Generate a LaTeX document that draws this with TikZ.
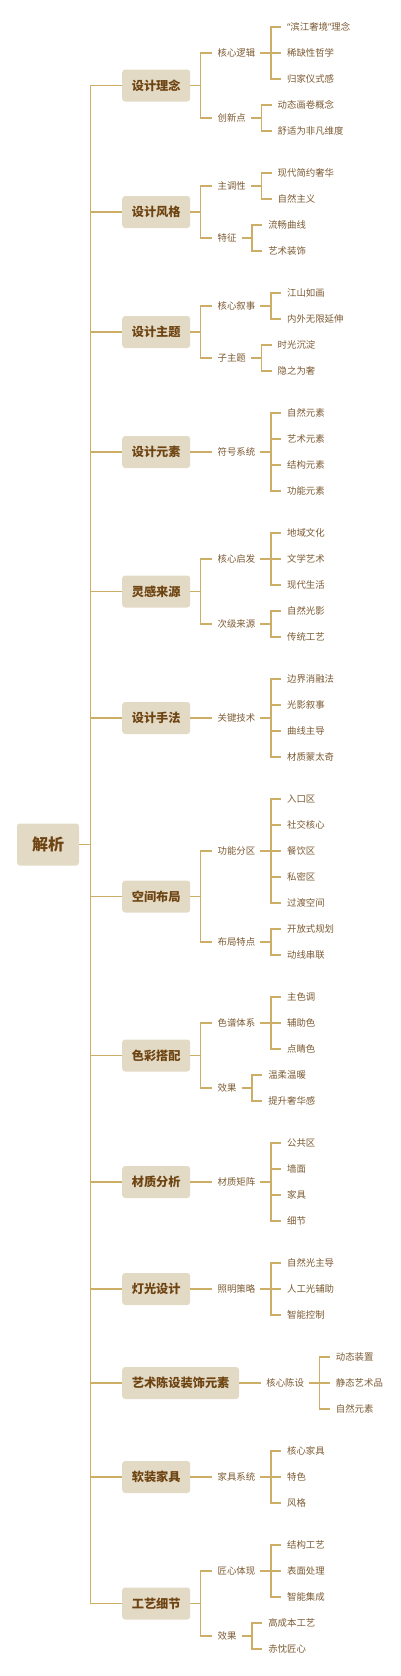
\documentclass[tikz,border=0pt]{standalone}
\usepackage{fontspec}
\setmainfont{Noto Sans CJK SC}
\newfontfamily\quotefont{Noto Sans}
\usepackage{tikz}
\usetikzlibrary{positioning}
\definecolor{boxfill}{RGB}{227,218,197}
\definecolor{boxtext}{RGB}{110,68,18}
\definecolor{linegold}{RGB}{205,174,102}
\definecolor{leaftext}{RGB}{123,90,50}

\begin{document}
\begin{tikzpicture}[x=1pt, y=-1pt,
    root/.style={fill=boxfill, rounded corners=3pt, minimum width=62pt, minimum height=42pt, inner sep=0pt, font=\fontsize{16}{16}\selectfont\bfseries, text=boxtext},
    topic/.style={fill=boxfill, rounded corners=3pt, minimum height=32pt, inner xsep=9.6pt, inner ysep=0pt, font=\fontsize{12.2}{13}\selectfont\bfseries, text=boxtext, anchor=west},
    subtopic/.style={inner xsep=5pt, inner ysep=2pt, font=\fontsize{9.4}{10}\selectfont, text=leaftext, anchor=west},
    leaf/.style={inner xsep=6pt, inner ysep=2pt, font=\fontsize{9.4}{10}\selectfont, text=leaftext, anchor=west},
    link/.style={draw=linegold, line width=1.3pt}
]
    \useasboundingbox (0,0) rectangle (400,1676);

    % Root
    \node[root] (root) at (48,844.5) {解析};

    % Topics
    \node[topic] (c1) at (122,85.5) {设计理念};
    \node[topic] (c2) at (122,212) {设计风格};
    \node[topic] (c3) at (122,332) {设计主题};
    \node[topic] (c4) at (122,452) {设计元素};
    \node[topic] (c5) at (122,591.5) {灵感来源};
    \node[topic] (c6) at (122,718) {设计手法};
    \node[topic] (c7) at (122,896.5) {空间布局};
    \node[topic] (c8) at (122,1055.5) {色彩搭配};
    \node[topic] (c9) at (122,1182) {材质分析};
    \node[topic] (c10) at (122,1289) {灯光设计};
    \node[topic] (c11) at (122,1383) {艺术陈设装饰元素};
    \node[topic] (c12) at (122,1477) {软装家具};
    \node[topic] (c13) at (122,1603.5) {工艺细节};

    \foreach \c in {c1,c2,c3,c4,c5,c6,c7,c8,c9,c10,c11,c12,c13}
        \draw[link] (root.east) -- ++(11,0) |- (\c.west);

    % Subtopics
    \node[subtopic] (s1a) at ([xshift=22pt]c1.east |- 0,53) {核心逻辑};
    \node[subtopic] (s1b) at ([xshift=22pt]c1.east |- 0,118) {创新点};
    \node[subtopic] (s2a) at ([xshift=22pt]c2.east |- 0,186) {主调性};
    \node[subtopic] (s2b) at ([xshift=22pt]c2.east |- 0,238) {特征};
    \node[subtopic] (s3a) at ([xshift=22pt]c3.east |- 0,306) {核心叙事};
    \node[subtopic] (s3b) at ([xshift=22pt]c3.east |- 0,358) {子主题};
    \node[subtopic] (s4a) at ([xshift=22pt]c4.east |- 0,452) {符号系统};
    \node[subtopic] (s5a) at ([xshift=22pt]c5.east |- 0,559) {核心启发};
    \node[subtopic] (s5b) at ([xshift=22pt]c5.east |- 0,624) {次级来源};
    \node[subtopic] (s6a) at ([xshift=22pt]c6.east |- 0,718) {关键技术};
    \node[subtopic] (s7a) at ([xshift=22pt]c7.east |- 0,851) {功能分区};
    \node[subtopic] (s7b) at ([xshift=22pt]c7.east |- 0,942) {布局特点};
    \node[subtopic] (s8a) at ([xshift=22pt]c8.east |- 0,1023) {色谱体系};
    \node[subtopic] (s8b) at ([xshift=22pt]c8.east |- 0,1088) {效果};
    \node[subtopic] (s9a) at ([xshift=22pt]c9.east |- 0,1182) {材质矩阵};
    \node[subtopic] (s10a) at ([xshift=22pt]c10.east |- 0,1289) {照明策略};
    \node[subtopic] (s11a) at ([xshift=22pt]c11.east |- 0,1383) {核心陈设};
    \node[subtopic] (s12a) at ([xshift=22pt]c12.east |- 0,1477) {家具系统};
    \node[subtopic] (s13a) at ([xshift=22pt]c13.east |- 0,1571) {匠心体现};
    \node[subtopic] (s13b) at ([xshift=22pt]c13.east |- 0,1636) {效果};

    \foreach \c/\s in {c1/s1a,c1/s1b,c2/s2a,c2/s2b,c3/s3a,c3/s3b,c4/s4a,c5/s5a,c5/s5b,c6/s6a,
                       c7/s7a,c7/s7b,c8/s8a,c8/s8b,c9/s9a,c10/s10a,c11/s11a,c12/s12a,c13/s13a,c13/s13b}
        \draw[link] (\c.east) -- ++(10,0) |- (\s.west);

    % Leaves
    \foreach \s/\y/\t [count=\i] in {
        s1a/27/{{\quotefont “}滨江奢境{\quotefont ”}理念}, s1a/53/稀缺性哲学, s1a/79/归家仪式感,
        s1b/105/动态画卷概念, s1b/131/舒适为非凡维度,
        s2a/173/现代简约奢华, s2a/199/自然主义,
        s2b/225/流畅曲线, s2b/251/艺术装饰,
        s3a/293/江山如画, s3a/319/内外无限延伸,
        s3b/345/时光沉淀, s3b/371/隐之为奢,
        s4a/413/自然元素, s4a/439/艺术元素, s4a/465/结构元素, s4a/491/功能元素,
        s5a/533/地域文化, s5a/559/文学艺术, s5a/585/现代生活,
        s5b/611/自然光影, s5b/637/传统工艺,
        s6a/679/边界消融法, s6a/705/光影叙事, s6a/731/曲线主导, s6a/757/材质蒙太奇,
        s7a/799/入口区, s7a/825/社交核心, s7a/851/餐饮区, s7a/877/私密区, s7a/903/过渡空间,
        s7b/929/开放式规划, s7b/955/动线串联,
        s8a/997/主色调, s8a/1023/辅助色, s8a/1049/点睛色,
        s8b/1075/温柔温暖, s8b/1101/提升奢华感,
        s9a/1143/公共区, s9a/1169/墙面, s9a/1195/家具, s9a/1221/细节,
        s10a/1263/自然光主导, s10a/1289/人工光辅助, s10a/1315/智能控制,
        s11a/1357/动态装置, s11a/1383/静态艺术品, s11a/1409/自然元素,
        s12a/1451/核心家具, s12a/1477/特色, s12a/1503/风格,
        s13a/1545/结构工艺, s13a/1571/表面处理, s13a/1597/智能集成,
        s13b/1623/高成本工艺, s13b/1649/赤忱匠心} {
        \node[leaf] (l\i) at ([xshift=20.5pt]\s.east |- 0,\y) {\t};
        \draw[link] (\s.east) -- ++(10.5,0) |- (l\i.west);
    }
\end{tikzpicture}
\end{document}
